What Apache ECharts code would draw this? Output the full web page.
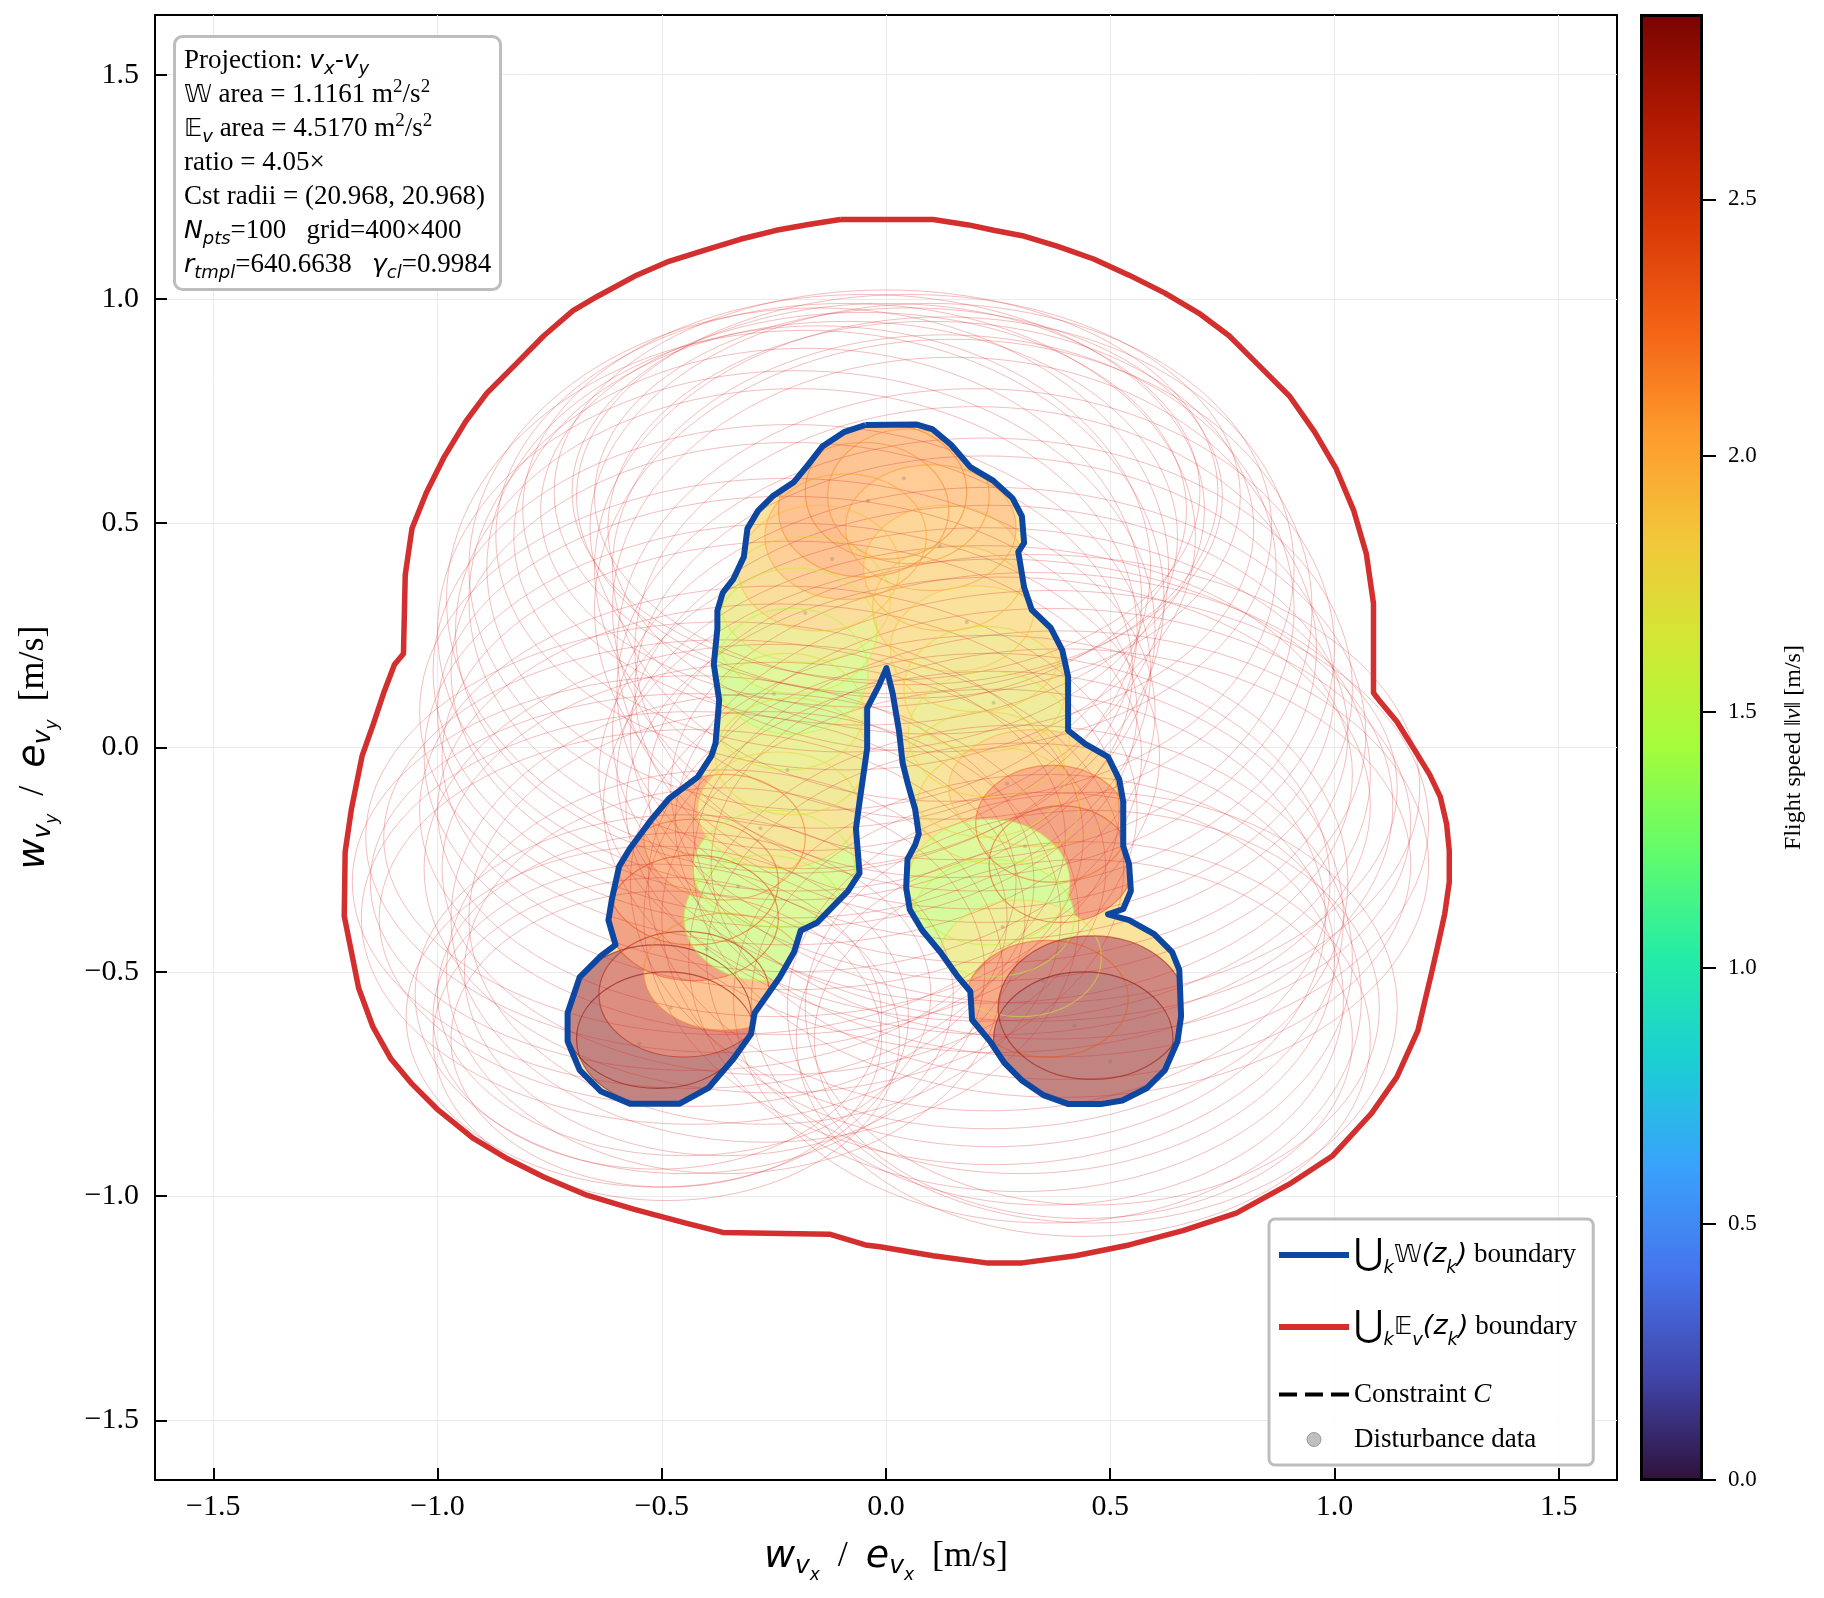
<!DOCTYPE html>
<html>
<head>
<meta charset="utf-8">
<script src="https://cdn.jsdelivr.net/npm/echarts@6/dist/echarts.min.js"></script>
<style>
  html, body { margin: 0; padding: 0; background: #fff; }
  #chart { width: 1824px; height: 1598px; }
</style>
</head>
<body>
<div id="chart"></div>
<script>
// ---- data ----
// trajectory points z_k (centre of each W set), flight speed, W radii, E_v radii
var centerX = [-0.51, -0.49, -0.45, -0.36, -0.43, -0.43, -0.27, -0.36, -0.25, -0.24, -0.21, -0.22, -0.21, -0.20, -0.18, -0.15, -0.09, -0.05, 0.00, 0.05, 0.10, 0.13, 0.15, 0.20, 0.22, 0.23, 0.22, 0.25, 0.33, 0.37, 0.39, 0.23, 0.24, 0.30, 0.36, 0.46, 0.44]
var centerY = [-0.60, -0.65, -0.55, -0.50, -0.38, -0.30, -0.38, -0.20, -0.27, -0.14, -0.02, 0.08, 0.17, 0.26, 0.33, 0.40, 0.47, 0.53, 0.57, 0.56, 0.49, 0.40, 0.31, 0.22, 0.13, 0.03, -0.06, -0.13, -0.09, -0.17, -0.26, -0.30, -0.38, -0.47, -0.56, -0.58, -0.65]
var speed = [2.80, 2.82, 2.62, 2.10, 2.38, 2.32, 1.48, 2.20, 1.52, 1.80, 1.75, 1.68, 1.50, 1.58, 1.72, 1.88, 2.02, 2.12, 2.15, 2.10, 2.05, 1.95, 1.90, 1.85, 1.78, 1.72, 1.75, 1.82, 1.92, 2.25, 2.35, 1.55, 1.48, 1.70, 2.30, 2.72, 2.82]
var wRadX = [0.21, 0.20, 0.19, 0.18, 0.19, 0.19, 0.18, 0.18, 0.18, 0.18, 0.17, 0.17, 0.17, 0.18, 0.19, 0.18, 0.18, 0.19, 0.18, 0.18, 0.19, 0.18, 0.18, 0.19, 0.18, 0.18, 0.18, 0.18, 0.19, 0.17, 0.16, 0.18, 0.18, 0.18, 0.18, 0.21, 0.20]
var wRadY = [0.16, 0.15, 0.14, 0.13, 0.14, 0.14, 0.14, 0.14, 0.13, 0.13, 0.13, 0.13, 0.14, 0.14, 0.14, 0.14, 0.14, 0.15, 0.15, 0.15, 0.14, 0.14, 0.14, 0.14, 0.14, 0.14, 0.14, 0.13, 0.13, 0.13, 0.13, 0.14, 0.13, 0.13, 0.13, 0.16, 0.15]
var eRadX = [0.56, 0.52, 0.60, 0.62, 0.74, 0.76, 0.70, 0.80, 0.78, 0.80, 0.82, 0.82, 0.80, 0.80, 0.80, 0.78, 0.78, 0.76, 0.74, 0.74, 0.76, 0.78, 0.80, 0.80, 0.82, 0.84, 0.86, 0.88, 0.86, 0.84, 0.82, 0.80, 0.78, 0.74, 0.70, 0.68, 0.64]
var eRadY = [0.38, 0.36, 0.40, 0.45, 0.46, 0.46, 0.50, 0.48, 0.50, 0.50, 0.52, 0.52, 0.55, 0.58, 0.60, 0.58, 0.52, 0.48, 0.45, 0.45, 0.50, 0.56, 0.60, 0.58, 0.56, 0.55, 0.55, 0.55, 0.52, 0.52, 0.52, 0.55, 0.55, 0.52, 0.50, 0.48, 0.44]
var eRadX2 = [0.50, 0.48, 0.55, 0.58, 0.70, 0.72, 0.66, 0.76, 0.74, 0.76, 0.78, 0.78, 0.76, 0.76, 0.75, 0.74, 0.74, 0.72, 0.70, 0.70, 0.72, 0.74, 0.76, 0.76, 0.78, 0.80, 0.82, 0.83, 0.81, 0.80, 0.78, 0.76, 0.74, 0.70, 0.66, 0.64, 0.60]
var eRadY2 = [0.34, 0.33, 0.36, 0.41, 0.42, 0.42, 0.46, 0.44, 0.46, 0.46, 0.48, 0.48, 0.51, 0.54, 0.56, 0.54, 0.48, 0.44, 0.42, 0.42, 0.46, 0.52, 0.56, 0.54, 0.52, 0.51, 0.51, 0.51, 0.48, 0.48, 0.48, 0.51, 0.51, 0.48, 0.46, 0.44, 0.40]

// disturbance samples (faint grey dots)
var distX = [-0.55, -0.48, -0.40, -0.33, -0.28, -0.22, -0.25, -0.18, -0.12, -0.04, 0.04, 0.12, 0.18, 0.24, 0.27, 0.31, 0.26, 0.35, 0.42, 0.50]
var distY = [-0.66, -0.58, -0.45, -0.31, -0.18, -0.05, 0.12, 0.30, 0.42, 0.55, 0.60, 0.45, 0.28, 0.10, -0.08, -0.22, -0.40, -0.52, -0.62, -0.70]

// union boundaries
var blueBoundary = [[-0.046,0.719],[0.069,0.720],[0.103,0.710],[0.145,0.675],[0.188,0.625],[0.239,0.595],[0.282,0.556],[0.303,0.516],[0.308,0.456],[0.295,0.436],[0.308,0.357],[0.325,0.307],[0.367,0.267],[0.393,0.217],[0.406,0.158],[0.406,0.038],[0.444,0.008],[0.495,-0.021],[0.520,-0.071],[0.529,-0.121],[0.529,-0.220],[0.542,-0.260],[0.546,-0.320],[0.529,-0.360],[0.495,-0.372],[0.542,-0.385],[0.598,-0.416],[0.638,-0.456],[0.654,-0.496],[0.658,-0.599],[0.650,-0.655],[0.622,-0.719],[0.582,-0.759],[0.527,-0.787],[0.479,-0.795],[0.407,-0.795],[0.351,-0.775],[0.304,-0.743],[0.264,-0.703],[0.232,-0.655],[0.192,-0.607],[0.188,-0.544],[0.161,-0.512],[0.121,-0.456],[0.081,-0.408],[0.053,-0.361],[0.045,-0.313],[0.048,-0.249],[0.065,-0.217],[0.073,-0.193],[0.065,-0.138],[0.049,-0.082],[0.037,-0.034],[0.029,0.037],[0.015,0.120],[0.001,0.177],[-0.016,0.138],[-0.042,0.088],[-0.042,-0.002],[-0.059,-0.121],[-0.067,-0.181],[-0.059,-0.280],[-0.085,-0.320],[-0.153,-0.390],[-0.190,-0.408],[-0.205,-0.456],[-0.237,-0.512],[-0.293,-0.592],[-0.301,-0.639],[-0.341,-0.695],[-0.396,-0.759],[-0.460,-0.794],[-0.571,-0.794],[-0.635,-0.767],[-0.683,-0.719],[-0.710,-0.655],[-0.710,-0.592],[-0.683,-0.512],[-0.635,-0.464],[-0.603,-0.440],[-0.619,-0.385],[-0.611,-0.337],[-0.595,-0.265],[-0.571,-0.225],[-0.524,-0.162],[-0.484,-0.114],[-0.420,-0.066],[-0.389,-0.018],[-0.380,0.010],[-0.372,0.106],[-0.384,0.185],[-0.376,0.265],[-0.376,0.305],[-0.364,0.345],[-0.340,0.376],[-0.317,0.425],[-0.309,0.488],[-0.285,0.528],[-0.253,0.560],[-0.205,0.592],[-0.173,0.631],[-0.142,0.671],[-0.094,0.703],[-0.046,0.719]]
var redBoundary = [[-0.102,1.177],[0.105,1.177],[0.184,1.165],[0.240,1.153],[0.304,1.141],[0.383,1.117],[0.463,1.089],[0.542,1.053],[0.622,1.013],[0.701,0.966],[0.765,0.918],[0.829,0.854],[0.900,0.783],[0.956,0.703],[1.003,0.623],[1.043,0.528],[1.071,0.432],[1.087,0.321],[1.087,0.122],[1.099,0.106],[1.139,0.058],[1.179,-0.006],[1.212,-0.060],[1.236,-0.110],[1.250,-0.170],[1.256,-0.230],[1.256,-0.300],[1.246,-0.370],[1.233,-0.430],[1.218,-0.496],[1.186,-0.631],[1.139,-0.735],[1.083,-0.815],[0.996,-0.910],[0.900,-0.973],[0.781,-1.038],[0.662,-1.077],[0.542,-1.109],[0.423,-1.133],[0.304,-1.149],[0.224,-1.149],[0.105,-1.133],[-0.014,-1.113],[-0.046,-1.109],[-0.126,-1.085],[-0.364,-1.081],[-0.444,-1.061],[-0.563,-1.029],[-0.667,-0.998],[-0.762,-0.958],[-0.842,-0.918],[-0.921,-0.871],[-1.001,-0.806],[-1.057,-0.750],[-1.104,-0.694],[-1.144,-0.623],[-1.176,-0.536],[-1.192,-0.456],[-1.208,-0.376],[-1.206,-0.233],[-1.192,-0.137],[-1.168,-0.018],[-1.144,0.050],[-1.120,0.122],[-1.096,0.185],[-1.076,0.209],[-1.072,0.385],[-1.057,0.488],[-1.025,0.568],[-0.985,0.648],[-0.937,0.727],[-0.890,0.790],[-0.826,0.854],[-0.763,0.918],[-0.698,0.974],[-0.643,1.006],[-0.556,1.053],[-0.484,1.084],[-0.404,1.109],[-0.325,1.133],[-0.245,1.153],[-0.173,1.166],[-0.102,1.177]]

var turbo = ['#30123b', '#4145ab', '#4675ed', '#39a2fc', '#1bcfd4', '#24eca6', '#61fc6c', '#a4fc3b', '#d1e834', '#f3c63a', '#fe9b2d', '#f36315', '#d93806', '#b11901', '#7a0402']
var speedMax = 2.86
var axisTicks = [-1.5, -1.0, -0.5, 0, 0.5, 1.0, 1.5]
var cbTicks = [0, 0.5, 1.0, 1.5, 2.0, 2.5]

// ---- build series data ----
var wSets = centerX.map(function (x, i) { return [x, centerY[i], speed[i], wRadX[i], wRadY[i]] })
var eSets = centerX.map(function (x, i) { return [x, centerY[i], speed[i], eRadX[i], eRadY[i]] })
    .concat(centerX.map(function (x, i) { return [x, centerY[i], speed[i], eRadX2[i], eRadY2[i]] }))
var distPts = distX.map(function (x, i) { return [x, distY[i]] })

var serif = 'Liberation Serif'
var mathFont = 'DejaVu Sans'
var lineIcon = 'path://M0,0H70V6H0Z'
var dashIcon = 'path://M0,0H18V4H0ZM26,0H44V4H26ZM52,0H70V4H52Z'

function tickFmt(v) {
    if (Math.abs(v) < 1e-9) return '0.0'
    return (v < 0 ? '\u2212' : '') + Math.abs(v).toFixed(1)
}

// clip region: the W union outline in pixels
function unionClip(api) {
    return { type: 'polygon', shape: { points: blueBoundary.map(function (p) { return api.coord(p) }) } }
}

function ellipseRender(mode) {
    return function (params, api) {
        var cx = api.value(0), cy = api.value(1)
        var c = api.coord([cx, cy])
        var s = api.size([api.value(3), api.value(4)], [cx, cy])
        var el = { type: 'ellipse', shape: { cx: c[0], cy: c[1], rx: s[0], ry: s[1] } }
        if (mode === 'fill') {
            el.style = { fill: echarts.color.lerp(0.5, ['#ffffff', api.visual('color')]), stroke: null }
            el.clipPath = unionClip(api)
        } else if (mode === 'edge') {
            el.style = { fill: 'none', stroke: api.visual('color'), lineWidth: 1.2, opacity: 0.55 }
            el.clipPath = unionClip(api)
        } else {
            el.style = { fill: 'none', stroke: '#d62728', lineWidth: 1, opacity: 0.3 }
        }
        return el
    }
}

var axisNameRich = {
    m: { fontFamily: mathFont, fontStyle: 'italic', fontSize: 38, lineHeight: 54, color: '#000' },
    s: { fontFamily: mathFont, fontStyle: 'italic', fontSize: 25, lineHeight: 54, verticalAlign: 'bottom', padding: [0, 0, 5, 0], color: '#000' },
    ss: { fontFamily: mathFont, fontStyle: 'italic', fontSize: 17, lineHeight: 54, verticalAlign: 'bottom', color: '#000' },
    t: { fontFamily: serif, fontSize: 36, lineHeight: 54, color: '#000' }
}

var infoRich = {
    t: { fontFamily: serif, fontSize: 27, lineHeight: 34, color: '#000' },
    m: { fontFamily: mathFont, fontStyle: 'italic', fontSize: 25, lineHeight: 34, color: '#000' },
    ms: { fontFamily: mathFont, fontStyle: 'italic', fontSize: 18, lineHeight: 34, verticalAlign: 'bottom', color: '#000' },
    sup: { fontFamily: serif, fontSize: 19, lineHeight: 34, verticalAlign: 'top', color: '#000' },
    bb: { fontFamily: mathFont, fontSize: 25, lineHeight: 34, color: '#000' }
}

var legendNames = {
    'W boundary': '{u|\u22C3}{k|k}{bb|\uD835\uDD4E}{m|(z}{k|k}{m|)}{t| boundary}',
    'E boundary': '{u|\u22C3}{k|k}{bb|\uD835\uDD3C}{k|v}{m|(z}{k|k}{m|)}{t| boundary}',
    'Constraint C': '{t|Constraint }{c|C}',
    'Disturbance data': '{t|Disturbance data}'
}

var chart = echarts.init(document.getElementById('chart'))
chart.setOption({
    animation: false,
    backgroundColor: '#fff',
    title: {
        left: 174,
        top: 36,
        padding: [8, 10, 8, 10],
        backgroundColor: 'rgba(255,255,255,0.9)',
        borderColor: '#bdbdbd',
        borderWidth: 3,
        borderRadius: 8,
        text: [
            '{t|Projection: }{m|v}{ms|x}{m|-v}{ms|y}',
            '{bb|\uD835\uDD4E}{t| area = 1.1161 m}{sup|2}{t|/s}{sup|2}',
            '{bb|\uD835\uDD3C}{ms|v}{t| area = 4.5170 m}{sup|2}{t|/s}{sup|2}',
            '{t|ratio = 4.05\u00D7}',
            '{t|Cst radii = (20.968, 20.968)}',
            '{m|N}{ms|pts}{t|=100   grid=400\u00D7400}',
            '{m|r}{ms|tmpl}{t|=640.6638   }{m|\u03B3}{ms|cl}{t|=0.9984}'
        ].join('\n'),
        textStyle: { fontFamily: serif, fontSize: 27, lineHeight: 34, fontWeight: 'normal', color: '#000', rich: infoRich }
    },
    legend: {
        orient: 'vertical',
        left: 1269,
        top: 1219,
        padding: [18, 16, 12, 10],
        itemGap: 18,
        itemWidth: 70,
        itemHeight: 14,
        backgroundColor: 'rgba(255,255,255,0.9)',
        borderColor: '#bdbdbd',
        borderWidth: 3,
        borderRadius: 6,
        data: [
            { name: 'W boundary', icon: lineIcon, itemStyle: { color: '#0d47a1' } },
            { name: 'E boundary', icon: lineIcon, itemStyle: { color: '#d32f2f' } },
            { name: 'Constraint C', icon: dashIcon, itemStyle: { color: '#000' } },
            { name: 'Disturbance data', icon: 'circle', itemStyle: { color: '#b0b0b0', borderColor: '#8a8a8a', borderWidth: 1 } }
        ],
        formatter: function (name) { return legendNames[name] },
        textStyle: {
            fontFamily: serif, fontSize: 26, color: '#000',
            rich: {
                u: { fontFamily: mathFont, fontSize: 36, lineHeight: 72, color: '#000' },
                k: { fontFamily: mathFont, fontStyle: 'italic', fontSize: 18, lineHeight: 72, verticalAlign: 'bottom', padding: [0, 0, 14, 0], color: '#000' },
                bb: { fontFamily: mathFont, fontSize: 25, lineHeight: 72, color: '#000' },
                m: { fontFamily: mathFont, fontStyle: 'italic', fontSize: 27, lineHeight: 72, color: '#000' },
                t: { fontFamily: serif, fontSize: 27, color: '#000' },
                c: { fontFamily: serif, fontStyle: 'italic', fontSize: 27, color: '#000' }
            }
        }
    },
    visualMap: [{
        type: 'continuous',
        show: false,
        min: 0,
        max: speedMax,
        dimension: 2,
        seriesIndex: [1, 3],
        inRange: { color: turbo }
    }],
    grid: [
        { left: 155, top: 15, width: 1462, height: 1465, show: true, borderColor: '#000', borderWidth: 2, backgroundColor: 'transparent' },
        { left: 1641, top: 15, width: 61, height: 1465, show: true, borderColor: '#000', borderWidth: 2, backgroundColor: 'transparent' }
    ],
    xAxis: [
        {
            type: 'value', gridIndex: 0, min: -1.63, max: 1.63,
            axisLine: { show: true, onZero: false, lineStyle: { color: '#000', width: 2 } },
            axisTick: { show: true, inside: true, length: 12, lineStyle: { color: '#000', width: 2 }, customValues: axisTicks },
            axisLabel: { customValues: axisTicks, formatter: tickFmt, fontFamily: serif, fontSize: 30, color: '#000', margin: 12 },
            splitLine: { show: true, lineStyle: { color: '#ebebeb', width: 1 } },
            name: '{m|w}{s|v}{ss|x}{t|  /  }{m|e}{s|v}{ss|x}{t|  [m/s]}',
            nameLocation: 'middle',
            nameGap: 50,
            nameTextStyle: { rich: axisNameRich }
        },
        { type: 'category', gridIndex: 1, data: ['speed'], show: false }
    ],
    yAxis: [
        {
            type: 'value', gridIndex: 0, min: -1.633, max: 1.633,
            axisLine: { show: true, onZero: false, lineStyle: { color: '#000', width: 2 } },
            axisTick: { show: true, inside: true, length: 12, lineStyle: { color: '#000', width: 2 }, customValues: axisTicks },
            axisLabel: { customValues: axisTicks, formatter: tickFmt, fontFamily: serif, fontSize: 30, color: '#000', margin: 16 },
            splitLine: { show: true, lineStyle: { color: '#ebebeb', width: 1 } },
            name: '{m|w}{s|v}{ss|y}{t|  /  }{m|e}{s|v}{ss|y}{t|  [m/s]}',
            nameLocation: 'middle',
            nameRotate: 90,
            nameGap: 94,
            nameTextStyle: { rich: axisNameRich }
        },
        {
            type: 'value', gridIndex: 1, min: 0, max: speedMax, position: 'right',
            axisLine: { show: false },
            axisTick: { show: true, inside: false, length: 14, lineStyle: { color: '#000', width: 2 }, customValues: cbTicks },
            axisLabel: { customValues: cbTicks, formatter: function (v) { return v.toFixed(1) }, fontFamily: serif, fontSize: 23, color: '#000', margin: 26 },
            splitLine: { show: false },
            name: '{t|Flight speed \u2016}{i|v}{t|\u2016 [m/s]}',
            nameLocation: 'middle',
            nameRotate: 90,
            nameGap: 80,
            nameTextStyle: {
                rich: {
                    t: { fontFamily: serif, fontSize: 24, color: '#000' },
                    i: { fontFamily: serif, fontStyle: 'italic', fontSize: 24, color: '#000' }
                }
            }
        }
    ],
    series: [
        {
            // base tint of the W union (gaps between sets)
            type: 'custom', name: 'W union', xAxisIndex: 0, yAxisIndex: 0, z: 1, silent: true,
            data: [blueBoundary[0]], encode: { x: 0, y: 1 },
            renderItem: function (params, api) {
                return {
                    type: 'polygon',
                    shape: { points: blueBoundary.map(function (p) { return api.coord(p) }) },
                    style: { fill: echarts.color.lerp(0.5, ['#ffffff', '#f3c63a']), stroke: null }
                }
            }
        },
        {
            type: 'custom', name: 'W fill', xAxisIndex: 0, yAxisIndex: 0, z: 2, clip: true,
            renderItem: ellipseRender('fill'), encode: { x: 0, y: 1 }, data: wSets, silent: true
        },
        {
            type: 'custom', name: 'E sets', xAxisIndex: 0, yAxisIndex: 0, z: 3, clip: true,
            renderItem: ellipseRender('eset'), encode: { x: 0, y: 1 }, data: eSets, silent: true
        },
        {
            type: 'custom', name: 'W sets', xAxisIndex: 0, yAxisIndex: 0, z: 4, clip: true,
            renderItem: ellipseRender('edge'), encode: { x: 0, y: 1 }, data: wSets, silent: true
        },
        {
            type: 'scatter', name: 'Disturbance data', xAxisIndex: 0, yAxisIndex: 0, z: 5,
            symbolSize: 4, itemStyle: { color: 'rgba(110,110,110,0.35)' }, data: distPts
        },
        {
            type: 'line', name: 'Constraint C', xAxisIndex: 0, yAxisIndex: 0, data: [],
            symbol: 'none', lineStyle: { color: '#000', width: 3, type: [10, 6] }, itemStyle: { color: '#000' }
        },
        {
            type: 'line', name: 'W boundary', xAxisIndex: 0, yAxisIndex: 0, z: 6, data: blueBoundary,
            symbol: 'none', lineStyle: { color: '#0d47a1', width: 6, join: 'round' }, itemStyle: { color: '#0d47a1' }
        },
        {
            type: 'line', name: 'E boundary', xAxisIndex: 0, yAxisIndex: 0, z: 7, data: redBoundary,
            symbol: 'none', lineStyle: { color: '#d32f2f', width: 5.5, join: 'round' }, itemStyle: { color: '#d32f2f' }
        },
        {
            type: 'bar', name: 'colorbar', xAxisIndex: 1, yAxisIndex: 1, barWidth: '100%', silent: true,
            data: [speedMax],
            itemStyle: {
                borderColor: '#000', borderWidth: 2,
                color: new echarts.graphic.LinearGradient(0, 1, 0, 0, turbo.map(function (c, i) {
                    return { offset: i / (turbo.length - 1), color: c }
                }))
            }
        }
    ]
})
</script>
</body>
</html>
